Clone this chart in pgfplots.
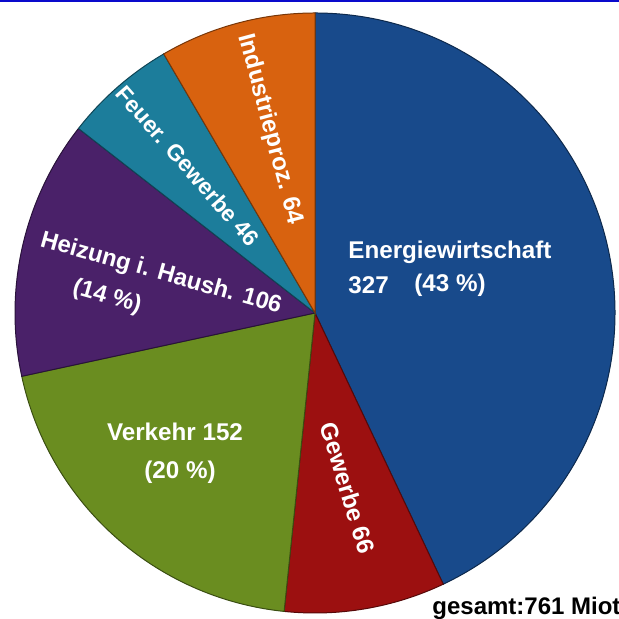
\documentclass[border=0pt]{standalone}
\usepackage{fontspec}
\setmainfont{Liberation Sans}
\usepackage{pgfplots}
\pgfplotsset{compat=1.18}
\definecolor{cEn}{HTML}{184A8B}
\definecolor{cGw}{HTML}{9C1010}
\definecolor{cVk}{HTML}{6A8D20}
\definecolor{cHz}{HTML}{4A2169}
\definecolor{cFe}{HTML}{1C7D9B}
\definecolor{cIn}{HTML}{D8620F}
\definecolor{cTop}{HTML}{0A0ACC}
\begin{document}
\begin{tikzpicture}
\begin{axis}[name=ax, x=0.5bp, y=0.5bp, xmin=0, xmax=619, ymin=0, ymax=619,
  hide axis, clip=false]
\pgfplotsextra{
  \foreach \s/\e/\c in {0/327/cEn, 327/393/cGw, 393/545/cVk, 545/651/cHz, 651/697/cFe, 697/761/cIn}{
    \pgfmathsetmacro\a{90-\s/761*360}
    \pgfmathsetmacro\b{90-\e/761*360}
    \fill[\c, draw=black!45!\c, line width=0.5pt] (axis cs:315,306) -- ++(\a:150bp) arc[start angle=\a, end angle=\b, radius=150bp] -- cycle;
  }
}
\fill[cTop] (axis cs:0,617) rectangle (axis cs:619,619);
\tikzset{lab/.style={text=white, font=\bfseries\fontsize{12.1bp}{14bp}\selectfont, inner sep=0pt}}
\node[lab, anchor=west] at (axis cs:348,367) {Energiewirtschaft};
\node[lab, anchor=west] at (axis cs:348,334) {327};
\node[lab, anchor=west] at (axis cs:414,334) {(43 \%)};
\node[lab, rotate=-75] at (axis cs:270,490) {Industrieproz. 64};
\node[lab, rotate=-48.8, font=\bfseries\fontsize{11.4bp}{14bp}\selectfont] at (axis cs:188,453) {Feuer. Gewerbe 46};
\node[lab, rotate=-15.7, font=\bfseries\fontsize{11.9bp}{14bp}\selectfont] at (axis cs:161,345) {Heizung i. Haush. 106};
\node[lab, rotate=-15.7, font=\bfseries\fontsize{11.9bp}{14bp}\selectfont] at (axis cs:107,322) {(14 \%)};
\node[lab] at (axis cs:175,187) {Verkehr 152};
\node[lab] at (axis cs:180,147) {(20 \%)};
\node[lab, rotate=-73] at (axis cs:348,131) {Gewerbe 66};
\node[inner sep=0pt, anchor=base west, font=\bfseries\fontsize{12bp}{14bp}\selectfont] at (axis cs:432,4) {gesamt:761 Miot};
\end{axis}
\pgfresetboundingbox
\path (ax.south west) rectangle (ax.north east);
\end{tikzpicture}
\end{document}
